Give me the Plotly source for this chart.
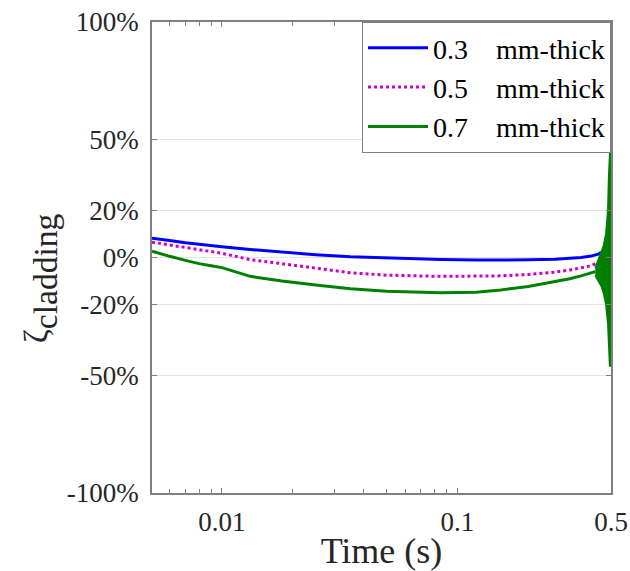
import plotly.graph_objects as go

# ---- data ----
t_main = [0.00505, 0.0055, 0.006, 0.007, 0.008, 0.009, 0.01, 0.0132, 0.018, 0.025,
          0.0352, 0.05, 0.0849, 0.12, 0.153, 0.2, 0.26, 0.3, 0.335, 0.37, 0.396, 0.408]
blue_03 = [8.2, 7.6, 7.2, 6.3, 5.6, 5.1, 4.6, 3.4, 2.3, 1.2,
           0.3, -0.3, -0.9, -1.1, -1.1, -1.0, -0.7, -0.4, 0.0, 0.6, 1.4, 2.2]
mag_05 = [6.5, 5.9, 5.3, 4.2, 3.3, 2.5, 1.8, -0.9, -2.8, -4.5,
          -6.5, -7.5, -8.0, -8.0, -7.8, -7.2, -6.2, -5.3, -4.5, -3.5, -2.0, -1.0]
t_green = [0.00505, 0.0055, 0.006, 0.007, 0.008, 0.009, 0.01, 0.0132, 0.018, 0.025,
           0.0352, 0.05, 0.0849, 0.12, 0.153, 0.2, 0.26, 0.3, 0.335, 0.37, 0.385]
green_07 = [2.7, 1.5, 0.5, -1.2, -2.6, -3.5, -4.3, -8.0, -10.0, -11.7,
            -13.3, -14.3, -15.0, -14.8, -13.8, -12.3, -10.3, -9.0, -7.8, -6.4, -6.0]
# envelope of the oscillating end of the 0.7 mm signal
t_env = [0.385, 0.396, 0.408, 0.418, 0.428, 0.436, 0.440, 0.444, 0.447, 0.449]
env_hi = [-4.5, -1.5, 2.0, 5.0, 10.0, 20.0, 35.0, 48.0, 49.0, 49.0]
env_lo = [-7.5, -9.5, -12.0, -15.0, -20.0, -28.0, -38.0, -46.0, -46.0, -46.0]

y_ticks = [-100, -50, -20, 0, 20, 50, 100]
y_labels = ["-100%", "-50%", "-20%", "0%", "20%", "50%", "100%"]
x_ticks = [0.01, 0.1, 0.449]
x_labels = ["0.01", "0.1", "0.5"]
x_minor = [0.006, 0.007, 0.008, 0.009, 0.02, 0.03, 0.04, 0.05, 0.06, 0.07, 0.08, 0.09]
SP = "\u00a0" * 4
names = ["0.3" + SP + "mm-thick", "0.5" + SP + "mm-thick", "0.7" + SP + "mm-thick"]

BLUE = "#0000ff"
MAG = "#cc00cc"
GREEN = "#008000"
FONT = "Times New Roman, Liberation Serif, Times, serif"
AX = "#7f7f7f"

fig = go.Figure()
fig.add_trace(go.Scatter(x=t_main, y=blue_03, mode="lines", name=names[0],
                         line=dict(color=BLUE, width=3)))
fig.add_trace(go.Scatter(x=t_main, y=mag_05, mode="lines", name=names[1],
                         line=dict(color=MAG, width=3, dash="dot")))
fig.add_trace(go.Scatter(x=t_green, y=green_07, mode="lines", name=names[2],
                         line=dict(color=GREEN, width=3)))
fig.add_trace(go.Scatter(x=t_env + t_env[::-1], y=env_hi + env_lo[::-1], mode="lines",
                         fill="toself", fillcolor=GREEN, line=dict(color=GREEN, width=2),
                         showlegend=False, hoverinfo="skip"))

fig.update_layout(
    width=630, height=571,
    margin=dict(l=152, r=19, t=22, b=78, autoexpand=False),
    paper_bgcolor="white", plot_bgcolor="white",
    font=dict(family=FONT, size=27, color="#262626"),
    legend=dict(x=1, xanchor="right", y=1, yanchor="top",
                bgcolor="white", bordercolor=AX, borderwidth=1,
                font=dict(family=FONT, size=28, color="#000000"),
                itemwidth=60, tracegroupgap=0),
    showlegend=True,
)
fig.update_xaxes(
    type="log", range=[-2.2967, -0.3478], automargin=False,
    tickmode="array", tickvals=x_ticks, ticktext=x_labels,
    ticks="inside", ticklen=5, tickcolor=AX,
    minor=dict(tickvals=x_minor, ticks="inside", ticklen=4, tickcolor=AX),
    showline=True, linecolor=AX, linewidth=1.5, mirror="ticks",
    showgrid=False, zeroline=False, ticklabelstandoff=4,
    title=dict(text="Time (s)", font=dict(family=FONT, size=36, color="#262626"), standoff=4),
)
fig.update_yaxes(
    range=[-100, 100], automargin=False,
    tickmode="array", tickvals=y_ticks, ticktext=y_labels,
    ticks="inside", ticklen=5, tickcolor=AX,
    showline=True, linecolor=AX, linewidth=1.5, mirror="ticks",
    showgrid=True, gridcolor="#e3e3e3", gridwidth=1, zeroline=False,
    ticklabelstandoff=6,
    title=dict(text="<span style='font-size:34px'>ζ</span><sub>cladding" + "\u00a0" * 5 + "</sub>",
               font=dict(family=FONT, size=48, color="#262626"), standoff=4),
)

fig.write_html("out.html")
